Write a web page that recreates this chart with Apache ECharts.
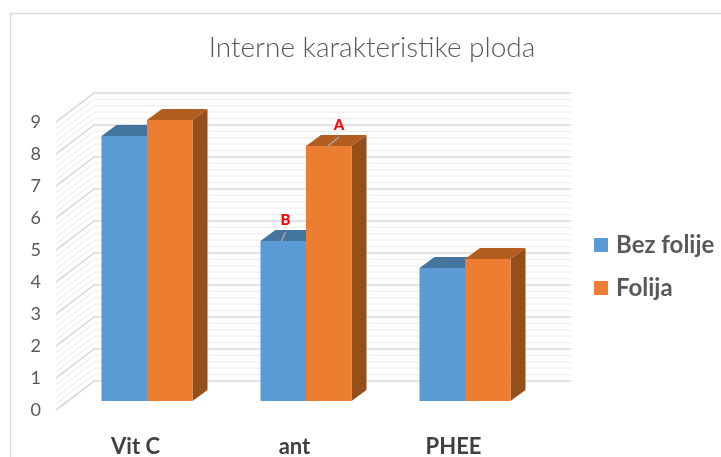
<!DOCTYPE html>
<html><head><meta charset="utf-8">
<style>html,body{margin:0;padding:0;background:#fff}#c{width:721px;height:457px}</style>
<script src="https://cdn.jsdelivr.net/npm/echarts@6/dist/echarts.min.js"></script>
</head><body><div id="c"></div>
<script>
const categories = ['Vit C', 'ant', 'PHEE'];
const bezFolije = [8.28, 5.0, 4.16];
const folija = [8.78, 7.97, 4.44];
const bezLabels = ['', 'B', ''];
const folijaLabels = ['', 'A', ''];
const yTicks = [0,1,2,3,4,5,6,7,8,9];
const minorPerMajor = 5;

const FONT = 'Lato, "Open Sans", sans-serif';
const wallDx = 38, wallDy = -29;
const barDx = 11.5, barDy = -9;
const depthDx = 15, depthDy = -11;
const barW = 45.5;

const gridLevels = [];
yTicks.forEach((t, i) => {
  gridLevels.push([t, 1]);
  if (i < yTicks.length - 1) for (let k = 1; k < minorPerMajor; k++) gridLevels.push([t + k / minorPerMajor, 0]);
});

function wallItem(params, api) {
  const cs = params.coordSys;
  const v = api.value(0), major = api.value(1);
  const y = api.coord([0, v])[1];
  const stroke = major ? '#d9d9d9' : '#efefef';
  const width = major ? 1.6 : 1.3;
  return { type: 'polyline', silent: true,
    shape: { points: [[cs.x, y], [cs.x + wallDx, y + wallDy], [cs.x + cs.width + wallDx, y + wallDy]] },
    style: { fill: null, stroke, lineWidth: width } };
}

function barItem(side, colors) {
  return function (params, api) {
    const idx = api.value(0);
    const val = api.value(1);
    const label = api.value(2);
    const top = api.coord([idx, val]);
    const base = api.coord([idx, 0]);
    const cx = top[0] + barDx + (side === 0 ? -barW : 0);
    const yt = top[1] + barDy, yb = base[1] + barDy;
    const x2 = cx + barW;
    const kids = [
      { type: 'polygon', shape: { points: [[cx, yt], [cx + depthDx, yt + depthDy], [x2 + depthDx, yt + depthDy], [x2, yt]] }, style: { fill: colors.top } },
      { type: 'polygon', shape: { points: [[x2, yt], [x2 + depthDx, yt + depthDy], [x2 + depthDx, yb + depthDy], [x2, yb]] }, style: { fill: colors.side } },
      { type: 'rect', shape: { x: cx, y: yt, width: barW, height: yb - yt }, style: { fill: colors.front } }
    ];
    if (label) {
      const lx = cx + (side === 0 ? 21 : 22), ly = yt;
      const tipX = side === 0 ? 4 : 11, tipY = -9;
      kids.push({ type: 'line', shape: { x1: lx, y1: ly, x2: lx + tipX, y2: ly + tipY }, style: { stroke: '#a6a6a6', lineWidth: 1.5 } });
      kids.push({ type: 'text', style: { text: label, x: lx + tipX, y: ly - 21, fill: '#ff0000', font: '900 15px ' + FONT, textAlign: 'center', textVerticalAlign: 'middle' } });
    }
    return { type: 'group', children: kids };
  };
}

const blue = { front: '#5b9bd5', top: '#43759f', side: '#3f6f9c' };
const orange = { front: '#ed7d31', top: '#b35d20', side: '#954f1b' };

const chart = echarts.init(document.getElementById('c'), null, { renderer: 'canvas' });
chart.setOption({
  animation: false,
  backgroundColor: '#fff',
  title: { text: 'Interne karakteristike ploda', left: 367, top: 29, textAlign: 'center',
    textStyle: { fontFamily: FONT, fontWeight: 300, fontSize: 28, color: '#595959' } },
  legend: { data: ['Bez folije', 'Folija'], orient: 'vertical', left: 589, top: 228, itemWidth: 14, itemHeight: 14,
    itemGap: 19, icon: 'rect', textStyle: { fontFamily: FONT, fontWeight: 'bold', fontSize: 24, color: '#595959', padding: [0, 0, 0, 3] } },
  grid: { left: 56, right: 188, top: 122, bottom: 47, outerBoundsMode: 'none' },
  xAxis: { type: 'category', data: categories,
    axisLine: { show: false }, axisTick: { show: false }, splitLine: { show: false },
    axisLabel: { margin: 26, interval: 0, color: '#404040', fontFamily: FONT, fontWeight: 'bold', fontSize: 22 } },
  yAxis: { type: 'value', min: 0, max: 9, interval: 1,
    axisLine: { show: false }, axisTick: { show: false }, splitLine: { show: false },
    axisLabel: { margin: 15, color: '#595959', fontFamily: FONT, fontSize: 18, padding: [3, 0, 0, 0] } },
  series: [
    { name: 'wall', type: 'custom', renderItem: wallItem, data: gridLevels, z: 1, silent: true, clip: false,
      encode: { y: 0 } },
    { name: 'Bez folije', type: 'custom', renderItem: barItem(0, blue), z: 2, clip: false,
      itemStyle: { color: blue.front },
      encode: { x: 0, y: 1 },
      data: bezFolije.map((v, i) => [i, v, bezLabels[i]]) },
    { name: 'Folija', type: 'custom', renderItem: barItem(1, orange), z: 3, clip: false,
      itemStyle: { color: orange.front },
      encode: { x: 0, y: 1 },
      data: folija.map((v, i) => [i, v, folijaLabels[i]]) }
  ],
  graphic: [
    { type: 'polyline', silent: true, z: 0, shape: { points: [[10.5, 457], [10.5, 13.5], [721, 13.5]] }, style: { fill: null, stroke: '#d9d9d9', lineWidth: 1.5 } }
  ]
});
</script></body></html>
